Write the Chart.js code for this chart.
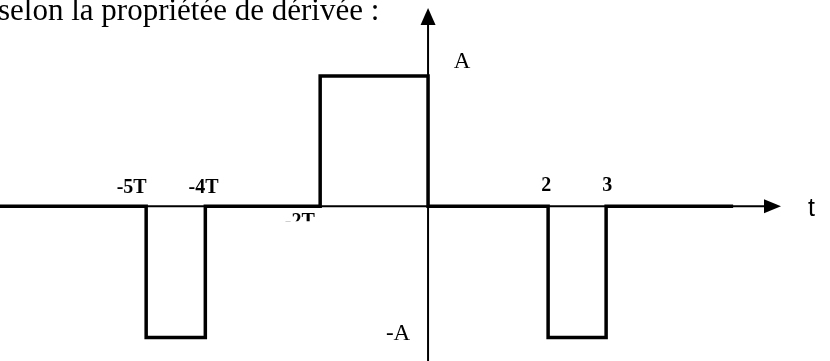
<!DOCTYPE html>
<html>
<head>
<meta charset="utf-8">
<script src="https://cdn.jsdelivr.net/npm/chart.js@4/dist/chart.umd.min.js"></script>
<style>
  html, body { margin: 0; padding: 0; background: #fff; }
  #wrap { width: 830px; height: 361px; }
</style>
</head>
<body>
<div id="wrap"><canvas id="sig" width="830" height="361"></canvas></div>
<script>
// signal corners, x in units of T (0 at the vertical axis), y in units of A
const signalX = [-7.4, -4.86, -4.86, -3.84, -3.84, -1.86, -1.86, 0, 0, 2.07, 2.07, 3.07, 3.07, 5.26];
const signalY = [0, 0, -1.01, -1.01, 0, 0, 1, 1, 0, 0, -1.01, -1.01, 0, 0];

// labels on the time axis and their positions (T units)
const tickLabels = ['-5T', '-4T', '-2T', '2', '3'];
const tickPos = [-5.11, -3.87, -2.21, 2.04, 3.09];
const levelLabels = ['A', '-A'];
const levelPos = [1.12, -0.97];

const title = 'selon la propriétée de dérivée :';

const X_MIN = -7.38, X_MAX = 6.93;
const Y_MIN = -1.19, Y_MAX = 1.585;

const overlay = {
  id: 'overlay',
  beforeDatasetsDraw(chart) {
    const { ctx, scales: { x, y } } = chart;
    const x0 = x.getPixelForValue(0);
    const y0 = y.getPixelForValue(0);
    ctx.save();
    ctx.strokeStyle = '#000';
    ctx.fillStyle = '#000';
    ctx.lineWidth = 2;
    // horizontal axis + arrow
    ctx.beginPath();
    ctx.moveTo(0, y0);
    ctx.lineTo(766, y0);
    ctx.stroke();
    ctx.beginPath();
    ctx.moveTo(764, y0 - 7);
    ctx.lineTo(781, y0);
    ctx.lineTo(764, y0 + 7);
    ctx.closePath();
    ctx.fill();
    // vertical axis + arrow
    ctx.beginPath();
    ctx.moveTo(x0, 361);
    ctx.lineTo(x0, 23);
    ctx.stroke();
    ctx.beginPath();
    ctx.moveTo(x0 - 7.5, 25);
    ctx.lineTo(x0, 8);
    ctx.lineTo(x0 + 7.5, 25);
    ctx.closePath();
    ctx.fill();
    ctx.restore();
  },
  afterDatasetsDraw(chart) {
    const { ctx, scales: { x, y } } = chart;
    const x0 = x.getPixelForValue(0);
    const y0 = y.getPixelForValue(0);
    ctx.save();
    ctx.fillStyle = '#000';
    ctx.textBaseline = 'alphabetic';

    ctx.font = '31px "Liberation Serif"';
    ctx.textAlign = 'left';
    ctx.fillText(title, -2, 20);

    ctx.font = 'bold 20px "Liberation Serif"';
    ctx.textAlign = 'center';
    tickLabels.forEach((lab, i) => {
      const px = x.getPixelForValue(tickPos[i]);
      if (tickPos[i] > -2.5 && tickPos[i] < 0) {
        // this one sits under the axis and is cut off at the bottom
        ctx.save();
        ctx.beginPath();
        ctx.rect(px - 30, y0 + 4, 60, 11);
        ctx.clip();
        ctx.fillText(lab, px, y0 + 21);
        ctx.restore();
      } else {
        ctx.fillText(lab, px, tickPos[i] < 0 ? y0 - 13 : y0 - 15);
      }
    });

    ctx.font = '23px "Liberation Serif"';
    ctx.textAlign = 'center';
    ctx.fillText(levelLabels[0], x0 + 34, y.getPixelForValue(levelPos[0]) + 8);
    ctx.fillText(levelLabels[1], x0 - 30, y.getPixelForValue(levelPos[1]) + 8);

    ctx.font = '25px "Liberation Sans"';
    ctx.textAlign = 'left';
    ctx.fillText('t', 808, y0 + 10);
    ctx.restore();
  }
};

new Chart(document.getElementById('sig').getContext('2d'), {
  type: 'line',
  data: {
    datasets: [{
      label: 'signal',
      data: signalX.map((v, i) => ({ x: v, y: signalY[i] })),
      borderColor: '#000',
      borderWidth: 3.5,
      pointRadius: 0,
      tension: 0,
      fill: false,
      borderJoinStyle: 'miter',
      clip: false
    }]
  },
  options: {
    responsive: false,
    animation: false,
    events: [],
    layout: { padding: 0 },
    plugins: { legend: { display: false }, tooltip: { enabled: false } },
    scales: {
      x: { type: 'linear', min: X_MIN, max: X_MAX, display: false },
      y: { type: 'linear', min: Y_MIN, max: Y_MAX, display: false }
    }
  },
  plugins: [overlay]
});
</script>
</body>
</html>
